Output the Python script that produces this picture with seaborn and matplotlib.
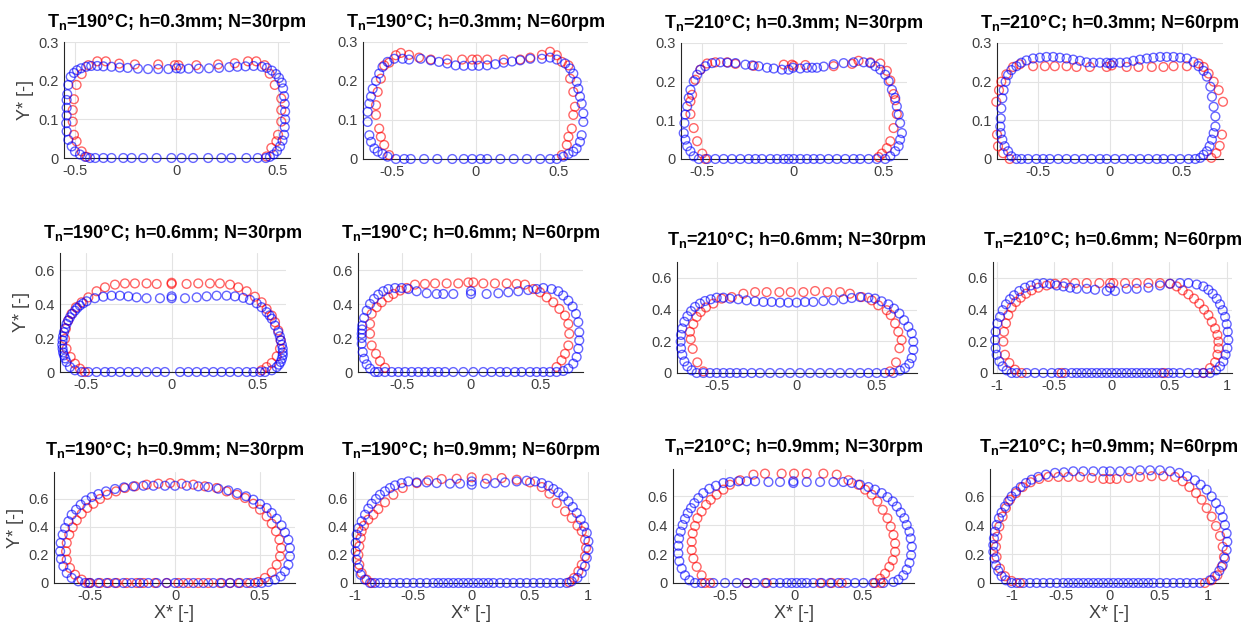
import matplotlib
matplotlib.use("Agg")
import matplotlib.pyplot as plt
from matplotlib.ticker import FuncFormatter, FixedLocator
import seaborn as sns

sns.set_style("white")
plt.rcParams['font.family'] = ['Liberation Sans', 'DejaVu Sans']
plt.rcParams['mathtext.fontset'] = 'custom'
plt.rcParams['mathtext.rm'] = 'Liberation Sans'
plt.rcParams['mathtext.bf'] = 'Liberation Sans:bold'
plt.rcParams['axes.unicode_minus'] = False

# ---------------- categories ----------------
temps = [190, 190, 210, 210, 190, 190, 210, 210, 190, 190, 210, 210]
heights = [0.3, 0.3, 0.3, 0.3, 0.6, 0.6, 0.6, 0.6, 0.9, 0.9, 0.9, 0.9]
speeds = [30, 60, 30, 60, 30, 60, 30, 60, 30, 60, 30, 60]

# ---------------- data: (X*, Y*) points ----------------
red_1 = [(-0.443,0.003),(-0.467,0.017),(-0.492,0.043),(-0.505,0.06),(-0.511,0.094),(-0.511,0.124),(-0.505,0.152),
         (-0.492,0.189),(-0.467,0.217),(-0.434,0.24),(-0.39,0.25),(-0.348,0.25),(-0.282,0.244),(-0.205,0.242),
         (-0.09,0.242),(-0.008,0.24),(0.01,0.24),(0.098,0.24),(0.205,0.242),(0.287,0.245),(0.352,0.25),(0.393,0.25),
         (0.434,0.24),(0.459,0.218),(0.484,0.189),(0.516,0.154),(0.516,0.124),(0.516,0.094),(0.5,0.06),(0.492,0.043),
         (0.467,0.026),(0.443,0.004)]
blue_1 = [(-0.426,0),(-0.45,0.003),(-0.475,0.009),(-0.5,0.017),(-0.516,0.03),(-0.533,0.047),(-0.541,0.069),(-0.543,0.09),
          (-0.541,0.11),(-0.541,0.13),(-0.541,0.15),(-0.538,0.165),(-0.533,0.189),(-0.521,0.21),(-0.505,0.22),(-0.49,0.227),
          (-0.47,0.232),(-0.445,0.236),(-0.42,0.238),(-0.39,0.238),(-0.36,0.237),(-0.32,0.236),(-0.28,0.234),(-0.24,0.233),
          (-0.19,0.231),(-0.14,0.23),(-0.09,0.23),(-0.04,0.23),(0.0,0.232),(0.02,0.231),(0.06,0.231),(0.11,0.231),
          (0.16,0.232),(0.21,0.233),(0.26,0.235),(0.30,0.236),(0.34,0.237),(0.38,0.238),(0.42,0.236),(0.445,0.233),
          (0.47,0.226),(0.49,0.217),(0.505,0.207),(0.518,0.195),(0.525,0.18),(0.53,0.16),(0.533,0.14),(0.535,0.12),
          (0.535,0.10),(0.533,0.08),(0.53,0.06),(0.522,0.045),(0.51,0.03),(0.495,0.018),(0.478,0.009),(0.46,0.003),(0.44,0),
          (-0.40,0),(-0.36,0),(-0.32,0),(-0.262,0),(-0.221,0),(-0.164,0),(-0.098,0),(-0.025,0),(0.025,0),(0.082,0),
          (0.156,0),(0.221,0),(0.27,0),(0.344,0),(0.40,0)]

red_2 = [(-0.517,0.01),(-0.547,0.036),(-0.567,0.057),(-0.577,0.078),(-0.596,0.113),(-0.596,0.138),(-0.586,0.172),
         (-0.567,0.206),(-0.547,0.24),(-0.517,0.247),(-0.477,0.266),(-0.447,0.272),(-0.398,0.267),(-0.338,0.26),
         (-0.268,0.255),(-0.169,0.255),(-0.08,0.255),(-0.02,0.255),(0.01,0.255),(0.07,0.255),(0.169,0.255),(0.268,0.255),
         (0.328,0.26),(0.398,0.267),(0.447,0.275),(0.487,0.266),(0.517,0.249),(0.557,0.24),(0.567,0.206),(0.586,0.172),
         (0.596,0.134),(0.586,0.113),(0.577,0.078),(0.557,0.057),(0.547,0.036),(0.517,0.01)]
blue_2 = [(-0.527,0.006),(-0.557,0.013),(-0.586,0.019),(-0.606,0.027),(-0.626,0.044),(-0.636,0.061),(-0.646,0.095),
          (-0.646,0.121),(-0.636,0.142),(-0.626,0.16),(-0.616,0.18),(-0.596,0.2),(-0.577,0.219),(-0.557,0.236),
          (-0.527,0.249),(-0.487,0.257),(-0.437,0.257),(-0.398,0.255),(-0.328,0.257),(-0.268,0.253),(-0.219,0.249),
          (-0.169,0.245),(-0.119,0.24),(-0.07,0.239),(-0.02,0.239),(0.02,0.239),(0.07,0.24),(0.119,0.243),(0.169,0.247),
          (0.219,0.25),(0.268,0.253),(0.328,0.257),(0.398,0.257),(0.447,0.26),(0.487,0.255),(0.537,0.245),(0.567,0.232),
          (0.586,0.219),(0.606,0.198),(0.616,0.18),(0.626,0.16),(0.636,0.142),(0.646,0.117),(0.646,0.095),(0.636,0.061),
          (0.626,0.044),(0.606,0.027),(0.586,0.019),(0.557,0.013),(0.527,0.006),
          (-0.477,0),(-0.427,0),(-0.388,0),(-0.308,0),(-0.229,0),(-0.139,0),(-0.07,0),(-0.02,0),(0.03,0),(0.07,0),
          (0.149,0),(0.229,0),(0.308,0),(0.388,0),(0.447,0),(0.487,0)]

red_3 = [(-0.483,0),(-0.5,0.014),(-0.528,0.046),(-0.547,0.08),(-0.565,0.116),(-0.565,0.149),(-0.556,0.166),
         (-0.538,0.205),(-0.51,0.231),(-0.473,0.247),(-0.428,0.25),(-0.363,0.25),(-0.317,0.246),(-0.216,0.241),
         (-0.051,0.244),(-0.006,0.244),(0.004,0.241),(0.068,0.243),(0.224,0.24),(0.325,0.246),(0.361,0.254),
         (0.426,0.25),(0.481,0.247),(0.517,0.228),(0.536,0.203),(0.554,0.168),(0.563,0.152),(0.572,0.116),
         (0.554,0.08),(0.536,0.046),(0.517,0.028),(0.49,0.014),(0.472,0.005)]
blue_3 = [(-0.519,0),(-0.547,0.007),(-0.565,0.02),(-0.583,0.033),(-0.593,0.05),(-0.602,0.067),(-0.598,0.093),
          (-0.593,0.115),(-0.583,0.136),(-0.574,0.158),(-0.565,0.179),(-0.547,0.201),(-0.528,0.218),(-0.51,0.231),
          (-0.483,0.24),(-0.446,0.248),(-0.4,0.25),(-0.36,0.249),(-0.317,0.248),(-0.262,0.244),(-0.225,0.242),
          (-0.189,0.24),(-0.143,0.236),(-0.106,0.234),(-0.061,0.231),(-0.024,0.231),(0.0,0.236),(0.04,0.234),
          (0.077,0.236),(0.105,0.236),(0.132,0.236),(0.169,0.239),(0.224,0.245),(0.279,0.248),(0.334,0.25),(0.389,0.25),
          (0.426,0.248),(0.453,0.24),(0.481,0.231),(0.508,0.218),(0.527,0.201),(0.545,0.179),(0.563,0.158),(0.572,0.136),
          (0.582,0.115),(0.59,0.093),(0.6,0.067),(0.59,0.05),(0.582,0.033),(0.563,0.02),(0.536,0.007),(0.508,0),
          (-0.473,0),(-0.428,0),(-0.382,0),(-0.336,0),(-0.29,0),(-0.244,0),(-0.207,0),(-0.171,0),(-0.125,0),(-0.088,0),
          (-0.051,0),(-0.024,0),(0.004,0),(0.04,0),(0.077,0),(0.114,0),(0.15,0),(0.196,0),(0.242,0),(0.288,0),(0.334,0),
          (0.37,0),(0.417,0),(0.462,0)]

red_4 = [(-0.698,0),(-0.744,0.015),(-0.779,0.033),(-0.786,0.063),(-0.791,0.148),(-0.772,0.178),(-0.756,0.2),
         (-0.721,0.219),(-0.674,0.238),(-0.628,0.245),(-0.535,0.24),(-0.453,0.24),(-0.384,0.24),(-0.302,0.24),
         (-0.233,0.238),(-0.14,0.238),(-0.023,0.238),(0.012,0.242),(0.116,0.238),(0.198,0.238),(0.291,0.238),
         (0.372,0.238),(0.442,0.24),(0.535,0.24),(0.616,0.247),(0.651,0.238),(0.686,0.221),(0.721,0.2),(0.756,0.178),
         (0.786,0.148),(0.779,0.063),(0.763,0.034),(0.74,0.015),(0.705,0.003)]
blue_4 = [(-0.651,0),(-0.686,0.007),(-0.709,0.02),(-0.733,0.033),(-0.749,0.05),(-0.76,0.067),(-0.763,0.084),
          (-0.76,0.105),(-0.756,0.131),(-0.749,0.157),(-0.74,0.178),(-0.726,0.2),(-0.709,0.217),(-0.686,0.23),
          (-0.651,0.24),(-0.616,0.249),(-0.581,0.255),(-0.535,0.26),(-0.488,0.262),(-0.442,0.264),(-0.395,0.264),
          (-0.349,0.262),(-0.302,0.26),(-0.256,0.257),(-0.209,0.254),(-0.163,0.25),(-0.116,0.249),(-0.07,0.249),
          (-0.023,0.249),(0.0,0.247),(0.023,0.249),(0.07,0.249),(0.116,0.25),(0.163,0.254),(0.209,0.257),(0.256,0.26),
          (0.302,0.262),(0.349,0.264),(0.395,0.264),(0.442,0.264),(0.488,0.262),(0.535,0.26),(0.581,0.251),(0.616,0.24),
          (0.651,0.228),(0.674,0.213),(0.698,0.187),(0.709,0.161),(0.721,0.135),(0.733,0.11),(0.733,0.084),(0.721,0.067),
          (0.709,0.05),(0.693,0.033),(0.674,0.02),(0.651,0.011),(0.628,0.003),
          (-0.616,0),(-0.57,0),(-0.512,0),(-0.465,0),(-0.419,0),(-0.36,0),(-0.302,0),(-0.244,0),(-0.186,0),(-0.128,0),
          (-0.07,0),(-0.023,0),(0.035,0),(0.093,0),(0.151,0),(0.209,0),(0.267,0),(0.326,0),(0.372,0),(0.43,0),(0.488,0),
          (0.547,0),(0.593,0)]

red_5 = [(-0.505,0),(-0.534,0.02),(-0.563,0.049),(-0.588,0.088),(-0.612,0.137),(-0.621,0.195),(-0.616,0.254),
         (-0.602,0.303),(-0.583,0.342),(-0.557,0.381),(-0.524,0.41),(-0.485,0.439),(-0.437,0.475),(-0.388,0.498),
         (-0.33,0.514),(-0.272,0.521),(-0.214,0.521),(-0.146,0.521),(-0.087,0.518),(0.0,0.518),(0.0,0.525),(0.087,0.518),
         (0.155,0.521),(0.223,0.521),(0.281,0.521),(0.34,0.514),(0.388,0.498),(0.437,0.475),(0.485,0.443),(0.524,0.41),
         (0.553,0.371),(0.583,0.332),(0.602,0.293),(0.621,0.244),(0.635,0.186),(0.631,0.137),(0.612,0.092),(0.583,0.053),
         (0.553,0.029),(0.524,0.01)]
blue_5 = [(-0.524,0),(-0.563,0.01),(-0.592,0.029),(-0.612,0.059),(-0.62,0.08),(-0.627,0.098),(-0.632,0.115),
          (-0.635,0.137),(-0.637,0.16),(-0.635,0.186),(-0.632,0.21),(-0.627,0.234),(-0.62,0.258),(-0.612,0.283),
          (-0.602,0.303),(-0.592,0.322),(-0.578,0.342),(-0.563,0.361),(-0.55,0.376),(-0.534,0.391),(-0.515,0.404),
          (-0.495,0.416),(-0.447,0.434),(-0.398,0.443),(-0.35,0.449),(-0.301,0.449),(-0.252,0.445),(-0.204,0.439),
          (-0.146,0.434),(-0.068,0.434),(0.0,0.434),(0.0,0.445),(0.078,0.434),(0.146,0.439),(0.204,0.445),(0.262,0.449),
          (0.32,0.449),(0.369,0.445),(0.417,0.436),(0.456,0.424),(0.495,0.404),(0.524,0.381),(0.553,0.352),(0.57,0.333),
          (0.583,0.313),(0.602,0.273),(0.621,0.234),(0.63,0.21),(0.635,0.186),(0.642,0.16),(0.647,0.137),(0.647,0.115),
          (0.647,0.098),(0.642,0.078),(0.635,0.059),(0.625,0.043),(0.612,0.029),(0.583,0.01),(0.544,0),
          (-0.485,0),(-0.437,0),(-0.388,0),(-0.35,0),(-0.301,0),(-0.252,0),(-0.204,0),(-0.146,0),(-0.087,0),(-0.039,0),
          (0.049,0),(0.097,0),(0.146,0),(0.194,0),(0.243,0),(0.291,0),(0.34,0),(0.388,0),(0.437,0),(0.476,0),(0.515,0)]

red_6 = [(-0.622,0.025),(-0.658,0.064),(-0.687,0.107),(-0.718,0.156),(-0.73,0.225),(-0.73,0.283),(-0.718,0.342),
         (-0.682,0.381),(-0.646,0.41),(-0.598,0.439),(-0.561,0.459),(-0.513,0.479),(-0.465,0.494),(-0.405,0.514),
         (-0.333,0.518),(-0.26,0.521),(-0.176,0.521),(-0.092,0.521),(-0.019,0.527),(0.017,0.527),(0.089,0.521),
         (0.173,0.521),(0.258,0.521),(0.33,0.518),(0.39,0.514),(0.451,0.488),(0.499,0.469),(0.547,0.439),(0.595,0.41),
         (0.639,0.371),(0.68,0.332),(0.704,0.283),(0.711,0.225),(0.704,0.156),(0.68,0.107),(0.655,0.068),(0.619,0.029)]
blue_6 = [(-0.694,0),(-0.73,0.02),(-0.754,0.045),(-0.773,0.078),(-0.783,0.117),(-0.79,0.166),(-0.79,0.2),(-0.79,0.225),
          (-0.788,0.25),(-0.786,0.273),(-0.773,0.318),(-0.754,0.361),(-0.73,0.4),(-0.701,0.43),(-0.67,0.455),(-0.634,0.475),
          (-0.598,0.488),(-0.549,0.494),(-0.501,0.494),(-0.453,0.488),(-0.393,0.475),(-0.32,0.463),(-0.248,0.459),
          (-0.2,0.459),(-0.128,0.459),(0.0,0.459),(0.0,0.475),(0.113,0.459),(0.198,0.463),(0.27,0.469),(0.342,0.475),
          (0.414,0.482),(0.475,0.488),(0.523,0.494),(0.583,0.488),(0.631,0.475),(0.667,0.45),(0.704,0.42),(0.735,0.385),
          (0.759,0.342),(0.776,0.293),(0.783,0.234),(0.783,0.186),(0.776,0.137),(0.764,0.088),(0.74,0.049),(0.704,0.02),
          (0.667,0.006),
          (-0.67,0),(-0.622,0),(-0.573,0),(-0.525,0),(-0.477,0),(-0.429,0),(-0.381,0),(-0.333,0),(-0.284,0),(-0.236,0),
          (-0.188,0),(-0.128,0),(-0.055,0),(0.017,0),(0.089,0),(0.149,0),(0.21,0),(0.258,0),(0.318,0),(0.366,0),(0.427,0),
          (0.475,0),(0.523,0),(0.571,0),(0.619,0)]

red_7 = [(-0.583,0.01),(-0.621,0.067),(-0.65,0.152),(-0.662,0.213),(-0.667,0.26),(-0.646,0.308),(-0.625,0.354),
         (-0.6,0.385),(-0.567,0.413),(-0.521,0.438),(-0.469,0.469),(-0.406,0.479),(-0.333,0.5),(-0.26,0.51),(-0.188,0.51),
         (-0.108,0.51),(-0.037,0.51),(0.042,0.51),(0.115,0.517),(0.192,0.51),(0.271,0.51),(0.333,0.5),(0.406,0.479),
         (0.469,0.458),(0.51,0.427),(0.563,0.396),(0.588,0.365),(0.615,0.313),(0.635,0.26),(0.656,0.208),(0.642,0.156),
         (0.621,0.067),(0.583,0.01)]
blue_7 = [(-0.625,0),(-0.656,0.017),(-0.683,0.042),(-0.702,0.073),(-0.715,0.115),(-0.723,0.156),(-0.725,0.198),
          (-0.723,0.24),(-0.715,0.281),(-0.702,0.323),(-0.683,0.358),(-0.66,0.39),(-0.635,0.417),(-0.604,0.438),
          (-0.573,0.454),(-0.537,0.465),(-0.5,0.475),(-0.458,0.475),(-0.417,0.469),(-0.365,0.465),(-0.313,0.458),
          (-0.26,0.452),(-0.208,0.448),(-0.156,0.448),(-0.104,0.444),(-0.052,0.444),(0.0,0.444),(0.052,0.448),
          (0.104,0.448),(0.167,0.454),(0.229,0.458),(0.292,0.465),(0.344,0.473),(0.396,0.479),(0.448,0.475),(0.49,0.469),
          (0.531,0.452),(0.573,0.433),(0.608,0.406),(0.642,0.375),(0.671,0.333),(0.698,0.292),(0.719,0.25),(0.729,0.198),
          (0.729,0.146),(0.719,0.094),(0.704,0.058),(0.677,0.031),(0.646,0.015),
          (-0.583,0),(-0.542,0),(-0.5,0),(-0.458,0),(-0.417,0),(-0.375,0),(-0.333,0),(-0.281,0),(-0.229,0),(-0.167,0),
          (-0.104,0),(-0.042,0),(0.021,0),(0.083,0),(0.146,0),(0.208,0),(0.271,0),(0.333,0),(0.396,0),(0.448,0),(0.5,0),
          (0.552,0),(0.604,0)]

red_8 = [(-0.783,0),(-0.841,0.021),(-0.89,0.063),(-0.928,0.115),(-0.942,0.198),(-0.936,0.26),(-0.919,0.313),
         (-0.899,0.365),(-0.87,0.413),(-0.832,0.448),(-0.791,0.475),(-0.745,0.5),(-0.696,0.521),(-0.638,0.538),
         (-0.565,0.552),(-0.493,0.563),(-0.406,0.567),(-0.319,0.567),(-0.217,0.567),(-0.107,0.567),(-0.014,0.567),
         (0.014,0.567),(0.116,0.567),(0.217,0.567),(0.319,0.567),(0.42,0.567),(0.507,0.563),(0.565,0.546),(0.617,0.521),
         (0.667,0.496),(0.716,0.469),(0.762,0.438),(0.803,0.4),(0.841,0.365),(0.87,0.323),(0.899,0.281),(0.919,0.24),
         (0.928,0.198),(0.928,0.156),(0.919,0.115),(0.899,0.067),(0.855,0.031),(0.797,0),(-0.435,0),(0.455,0)]
blue_8 = [(-0.87,0),(-0.913,0.017),(-0.948,0.042),(-0.977,0.073),(-1.0,0.115),(-1.009,0.156),(-1.014,0.208),
          (-1.009,0.26),(-0.994,0.313),(-0.971,0.354),(-0.948,0.396),(-0.919,0.433),(-0.884,0.465),(-0.849,0.49),
          (-0.803,0.517),(-0.754,0.538),(-0.704,0.552),(-0.652,0.563),(-0.594,0.567),(-0.536,0.563),(-0.478,0.552),
          (-0.42,0.546),(-0.362,0.538),(-0.304,0.531),(-0.217,0.531),(-0.145,0.525),(-0.043,0.517),(0.029,0.517),
          (-0.014,0.538),(0.13,0.531),(0.217,0.531),(0.319,0.538),(0.42,0.552),(0.507,0.563),(0.594,0.567),(0.667,0.567),
          (0.739,0.558),(0.797,0.546),(0.841,0.525),(0.878,0.5),(0.913,0.469),(0.942,0.433),(0.965,0.396),(0.986,0.354),
          (1.0,0.308),(1.009,0.26),(1.014,0.208),(1.006,0.156),(0.99,0.115),(0.971,0.073),(0.942,0.042),(0.907,0.017),
          (-0.826,0),(-0.739,0),(-0.667,0),(-0.594,0),(-0.522,0),(-0.464,0),(-0.406,0),(-0.348,0),(-0.304,0),(-0.261,0),
          (-0.217,0),(-0.174,0),(-0.13,0),(-0.087,0),(-0.043,0),(0.0,0),(0.043,0),(0.087,0),(0.13,0),(0.174,0),(0.217,0),
          (0.261,0),(0.304,0),(0.348,0),(0.391,0),(0.435,0),(0.493,0),(0.536,0),(0.594,0),(0.667,0),(0.739,0),(0.797,0),
          (0.855,0)]

red_9 = [(-0.51,0),(-0.549,0.024),(-0.588,0.059),(-0.618,0.107),(-0.637,0.166),(-0.641,0.225),(-0.637,0.285),
         (-0.622,0.344),(-0.602,0.396),(-0.578,0.446),(-0.549,0.493),(-0.516,0.534),(-0.48,0.564),(-0.441,0.598),
         (-0.398,0.628),(-0.347,0.652),(-0.294,0.676),(-0.235,0.688),(-0.167,0.7),(-0.098,0.707),(-0.029,0.711),
         (0.039,0.707),(0.108,0.7),(0.176,0.688),(0.245,0.676),(0.304,0.652),(0.363,0.628),(0.412,0.605),(0.461,0.564),
         (0.5,0.522),(0.539,0.474),(0.569,0.422),(0.594,0.368),(0.614,0.308),(0.624,0.249),(0.618,0.19),(0.598,0.13),
         (0.569,0.076),(0.529,0.036),(0.49,0.007),
         (-0.5,0),(-0.441,0),(-0.392,0),(-0.343,0),(-0.284,0),(-0.225,0),(-0.186,0),(-0.118,0),(-0.049,0),(0.02,0),
         (0.078,0),(0.137,0),(0.196,0),(0.265,0),(0.324,0),(0.382,0),(0.441,0)]
blue_9 = [(-0.529,0),(-0.569,0.012),(-0.608,0.036),(-0.637,0.071),(-0.657,0.119),(-0.671,0.171),(-0.676,0.225),
          (-0.673,0.285),(-0.661,0.344),(-0.647,0.391),(-0.627,0.439),(-0.608,0.486),(-0.582,0.522),(-0.555,0.557),
          (-0.524,0.588),(-0.49,0.612),(-0.451,0.633),(-0.406,0.652),(-0.353,0.669),(-0.3,0.681),(-0.245,0.688),
          (-0.186,0.692),(-0.127,0.692),(-0.059,0.692),(0.0,0.692),(0.069,0.692),(0.137,0.688),(0.196,0.683),(0.255,0.671),
          (0.314,0.659),(0.367,0.64),(0.418,0.617),(0.461,0.593),(0.5,0.562),(0.539,0.534),(0.569,0.498),(0.598,0.458),
          (0.627,0.41),(0.647,0.36),(0.667,0.308),(0.676,0.249),(0.676,0.19),(0.667,0.13),(0.647,0.083),(0.622,0.047),
          (0.588,0.024),(0.549,0.007),
          (-0.5,0),(-0.451,0),(-0.402,0),(-0.353,0),(-0.304,0),(-0.255,0),(-0.206,0),(-0.157,0),(-0.108,0),(-0.049,0),
          (0.0,0),(0.049,0),(0.108,0),(0.167,0),(0.225,0),(0.275,0),(0.324,0),(0.373,0),(0.422,0),(0.471,0),(0.51,0)]

red_10 = [(-0.857,0),(-0.9,0.024),(-0.943,0.071),(-0.963,0.13),(-0.971,0.2),(-0.963,0.261),(-0.951,0.32),(-0.943,0.368),
          (-0.923,0.408),(-0.886,0.451),(-0.843,0.486),(-0.8,0.526),(-0.743,0.574),(-0.671,0.628),(-0.591,0.676),
          (-0.471,0.711),(-0.371,0.73),(-0.257,0.74),(-0.129,0.742),(0.0,0.752),(0.129,0.742),(0.257,0.747),(0.386,0.735),
          (0.5,0.716),(0.6,0.683),(0.666,0.636),(0.729,0.569),(0.8,0.51),(0.857,0.462),(0.906,0.408),(0.943,0.368),
          (0.971,0.308),(0.98,0.249),(0.971,0.19),(0.943,0.13),(0.914,0.083),(0.877,0.036),(0.837,0.005)]
blue_10 = [(-0.871,0),(-0.914,0.024),(-0.951,0.059),(-0.971,0.107),(-0.986,0.166),(-0.994,0.225),(-0.994,0.285),
           (-0.986,0.344),(-0.971,0.391),(-0.943,0.439),(-0.914,0.486),(-0.886,0.529),(-0.857,0.564),(-0.82,0.598),
           (-0.786,0.628),(-0.743,0.652),(-0.7,0.676),(-0.657,0.695),(-0.6,0.711),(-0.543,0.723),(-0.471,0.716),
           (-0.386,0.716),(-0.3,0.711),(-0.186,0.707),(-0.1,0.707),(0.0,0.7),(0.0,0.723),(0.114,0.707),(0.2,0.711),
           (0.286,0.716),(0.386,0.723),(0.471,0.728),(0.543,0.723),(0.6,0.711),(0.657,0.692),(0.7,0.669),(0.743,0.645),
           (0.786,0.617),(0.829,0.581),(0.866,0.541),(0.9,0.498),(0.934,0.451),(0.963,0.403),(0.986,0.356),(1.0,0.296),
           (1.0,0.237),(0.986,0.178),(0.971,0.119),(0.943,0.071),(0.906,0.036),(0.857,0.012),
           (-0.829,0),(-0.786,0),(-0.729,0),(-0.671,0),(-0.614,0),(-0.557,0),(-0.5,0),(-0.443,0),(-0.386,0),(-0.329,0),
           (-0.286,0),(-0.243,0),(-0.2,0),(-0.157,0),(-0.114,0),(-0.071,0),(-0.029,0),(0.014,0),(0.057,0),(0.1,0),
           (0.143,0),(0.186,0),(0.243,0),(0.3,0),(0.357,0),(0.414,0),(0.471,0),(0.529,0),(0.586,0),(0.643,0),(0.7,0),
           (0.757,0),(0.814,0)]

red_11 = [(-0.61,0),(-0.671,0.053),(-0.707,0.112),(-0.731,0.17),(-0.743,0.228),(-0.743,0.286),(-0.736,0.344),
          (-0.719,0.395),(-0.702,0.449),(-0.671,0.495),(-0.639,0.542),(-0.605,0.577),(-0.562,0.612),(-0.513,0.647),
          (-0.465,0.681),(-0.392,0.712),(-0.295,0.751),(-0.211,0.758),(-0.09,0.758),(0.0,0.758),(0.092,0.758),
          (0.213,0.758),(0.31,0.751),(0.395,0.712),(0.467,0.681),(0.516,0.647),(0.564,0.612),(0.605,0.565),(0.644,0.507),
          (0.678,0.449),(0.702,0.391),(0.722,0.333),(0.734,0.274),(0.734,0.216),(0.717,0.158),(0.692,0.112),(0.661,0.065),
          (0.625,0.03),(0.588,0),
          (-0.646,0),(-0.344,0),(-0.199,0),(0.189,0),(0.274,0),(0.346,0),(0.63,0)]
blue_11 = [(-0.719,0),(-0.76,0.019),(-0.792,0.053),(-0.816,0.1),(-0.833,0.151),(-0.84,0.205),(-0.84,0.258),
           (-0.835,0.309),(-0.823,0.356),(-0.809,0.402),(-0.792,0.444),(-0.772,0.484),(-0.748,0.519),(-0.724,0.553),
           (-0.695,0.588),(-0.659,0.623),(-0.615,0.653),(-0.567,0.674),(-0.513,0.693),(-0.465,0.7),(-0.404,0.705),
           (-0.344,0.705),(-0.283,0.705),(-0.186,0.7),(-0.102,0.7),(-0.005,0.693),(-0.005,0.705),(0.092,0.7),(0.189,0.7),
           (0.286,0.7),(0.358,0.7),(0.419,0.693),(0.479,0.681),(0.54,0.665),(0.588,0.647),(0.637,0.623),(0.678,0.595),
           (0.717,0.565),(0.746,0.53),(0.775,0.488),(0.801,0.449),(0.818,0.402),(0.838,0.356),(0.847,0.309),(0.855,0.251),
           (0.85,0.193),(0.838,0.14),(0.818,0.093),(0.794,0.053),(0.758,0.023),(0.722,0.007),
           (-0.671,0),(-0.586,0),(-0.501,0),(-0.416,0),(-0.344,0),(-0.283,0),(-0.211,0),(-0.15,0),(-0.102,0),(-0.053,0),
           (-0.017,0),(0.019,0),(0.056,0),(0.092,0),(0.14,0),(0.201,0),(0.262,0),(0.322,0),(0.383,0),(0.443,0),(0.504,0),
           (0.576,0),(0.649,0)]

red_12 = [(-0.915,0),(-1.0,0.014),(-1.068,0.047),(-1.119,0.1),(-1.153,0.181),(-1.159,0.251),(-1.146,0.321),
          (-1.125,0.391),(-1.092,0.46),(-1.058,0.519),(-1.017,0.577),(-0.956,0.623),(-0.888,0.665),(-0.807,0.698),
          (-0.719,0.721),(-0.627,0.735),(-0.525,0.735),(-0.424,0.735),(-0.305,0.735),(-0.186,0.728),(-0.068,0.721),
          (0.0,0.721),(0.068,0.721),(0.186,0.728),(0.305,0.735),(0.424,0.74),(0.542,0.74),(0.661,0.735),(0.739,0.705),
          (0.807,0.665),(0.875,0.623),(0.932,0.577),(0.983,0.519),(1.034,0.46),(1.078,0.395),(1.119,0.326),(1.146,0.251),
          (1.159,0.181),(1.136,0.112),(1.092,0.053),(1.034,0.019),(0.966,0)]
blue_12 = [(-1.0,0),(-1.058,0.019),(-1.102,0.047),(-1.136,0.084),(-1.159,0.123),(-1.176,0.17),(-1.186,0.216),
           (-1.186,0.263),(-1.18,0.309),(-1.169,0.356),(-1.153,0.402),(-1.129,0.449),(-1.102,0.488),(-1.068,0.53),
           (-1.034,0.565),(-1.0,0.6),(-0.956,0.635),(-0.908,0.665),(-0.854,0.693),(-0.797,0.716),(-0.729,0.735),
           (-0.651,0.751),(-0.559,0.763),(-0.468,0.767),(-0.373,0.774),(-0.271,0.774),(-0.169,0.774),(-0.068,0.774),
           (0.0,0.774),(0.102,0.774),(0.203,0.774),(0.305,0.781),(0.407,0.781),(0.508,0.781),(0.61,0.774),(0.705,0.763),
           (0.786,0.74),(0.864,0.712),(0.922,0.681),(0.983,0.647),(1.034,0.6),(1.078,0.553),(1.119,0.507),(1.146,0.456),
           (1.169,0.402),(1.186,0.344),(1.193,0.286),(1.186,0.228),(1.169,0.17),(1.146,0.123),(1.112,0.084),(1.068,0.047),
           (1.017,0.019),
           (-0.949,0),(-0.881,0),(-0.814,0),(-0.746,0),(-0.678,0),(-0.61,0),(-0.542,0),(-0.475,0),(-0.424,0),(-0.373,0),
           (-0.322,0),(-0.271,0),(-0.22,0),(-0.169,0),(-0.119,0),(-0.068,0),(-0.017,0),(0.034,0),(0.085,0),(0.136,0),
           (0.186,0),(0.237,0),(0.288,0),(0.339,0),(0.39,0),(0.441,0),(0.508,0),(0.576,0),(0.644,0),(0.712,0),(0.78,0),
           (0.847,0),(0.915,0)]

reds = [red_1, red_2, red_3, red_4, red_5, red_6, red_7, red_8, red_9, red_10, red_11, red_12]
blues = [blue_1, blue_2, blue_3, blue_4, blue_5, blue_6, blue_7, blue_8, blue_9, blue_10, blue_11, blue_12]

# axis ranges and ticks
x_limits = [(-0.554, 0.559), (-0.674, 0.674), (-0.617, 0.628), (-0.786, 0.786),
            (-0.65, 0.666), (-0.817, 0.81), (-0.748, 0.752), (-1.032, 1.046),
            (-0.712, 0.706), (-1.017, 1.005), (-0.879, 0.871), (-1.22, 1.2)]
y_tops = [0.3] * 4 + [0.7] * 4 + [0.79] * 4
x_ticks_small = [-0.5, 0, 0.5]
x_ticks_wide = [-1, -0.5, 0, 0.5, 1]
wide_panels = [7, 9, 11]
y_ticks_row1 = [0, 0.1, 0.2, 0.3]
y_ticks_other = [0, 0.2, 0.4, 0.6]

# ---------------- layout (pixel boxes: left, right, top, bottom) ----------------
W, H = 1258, 631
boxes = [(64, 290, 42, 158), (363, 588, 42, 159), (681, 907, 43, 159), (997, 1223, 43, 159),
         (60, 286, 253, 372), (358, 583, 253, 372), (677, 917, 262, 373), (993, 1232, 262, 373),
         (54, 295, 472, 583), (353, 589, 472, 583), (673, 914, 469, 583), (990, 1228, 469, 583)]
title_pads = [11, 11, 11, 11, 11, 11, 12, 12, 12, 12, 12, 12]

fig = plt.figure(figsize=(W / 100, H / 100), dpi=100)
fmt = FuncFormatter(lambda v, _: f"{v:g}")
tick_col = '#404040'

for i in range(12):
    l, r, t, b = boxes[i]
    ax = fig.add_axes([l / W, 1 - b / H, (r - l) / W, (b - t) / H])
    for pts, col in ((reds[i], (1.0, 0.0, 0.0, 0.6)), (blues[i], (0.0, 0.0, 1.0, 0.6))):
        xs = [p[0] for p in pts]
        ys = [p[1] for p in pts]
        sns.scatterplot(x=xs, y=ys, ax=ax, marker='o', s=40, facecolor='none',
                        edgecolor=[col], linewidth=1.0, clip_on=False, legend=False, zorder=3)
    ax.set_xlim(*x_limits[i])
    ax.set_ylim(0, y_tops[i])
    ax.xaxis.set_major_locator(FixedLocator(x_ticks_wide if i in wide_panels else x_ticks_small))
    ax.yaxis.set_major_locator(FixedLocator(y_ticks_row1 if i < 4 else y_ticks_other))
    ax.xaxis.set_major_formatter(fmt)
    ax.yaxis.set_major_formatter(fmt)
    ax.grid(True, color='#e3e3e3', linewidth=0.8)
    ax.set_axisbelow(True)
    for s in ('top', 'right'):
        ax.spines[s].set_visible(False)
    for s in ('left', 'bottom'):
        ax.spines[s].set_color('#262626')
        ax.spines[s].set_linewidth(0.8)
    ax.tick_params(direction='in', length=3, width=0.6, labelsize=10.5, colors=tick_col, pad=4)
    ax.set_xlabel("")
    ax.set_ylabel("")
    ax.set_title(r"$\mathbf{T_n}$" + f"={temps[i]}°C; h={heights[i]}mm; N={speeds[i]}rpm",
                 fontsize=13, fontweight='bold', pad=title_pads[i], color='black')
    if i % 4 == 0:
        ax.set_ylabel("Y* [-]", fontsize=13, color=tick_col, labelpad=3)
    if i >= 8:
        ax.set_xlabel("X* [-]", fontsize=13, color=tick_col, labelpad=2)

fig.savefig("out.png", dpi=100)
